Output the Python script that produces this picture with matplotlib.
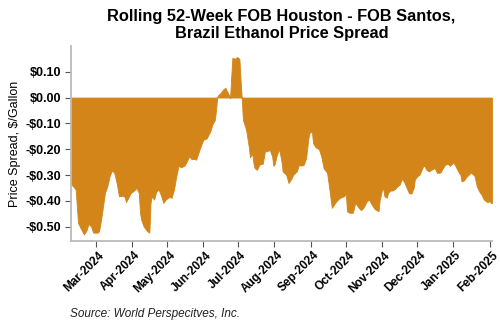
import numpy as np
import pandas as pd
import matplotlib
matplotlib.use("Agg")
import matplotlib.pyplot as plt
import matplotlib.dates as mdates
import matplotlib.transforms as mtransforms
from matplotlib.ticker import FuncFormatter

plt.rcParams['font.family'] = ['Liberation Sans', 'DejaVu Sans']

# Rolling 52-week spread, $/gallon
dates = [
    "2024-02-09", "2024-02-12", "2024-02-13", "2024-02-15", "2024-02-17", "2024-02-20",
    "2024-02-22", "2024-02-24", "2024-02-26", "2024-02-28", "2024-03-03", "2024-03-04",
    "2024-03-06", "2024-03-09", "2024-03-11", "2024-03-13", "2024-03-15", "2024-03-17",
    "2024-03-19", "2024-03-21", "2024-03-24", "2024-03-26", "2024-03-27", "2024-03-29",
    "2024-03-31", "2024-04-03", "2024-04-05", "2024-04-07", "2024-04-08", "2024-04-09",
    "2024-04-11", "2024-04-14", "2024-04-16", "2024-04-17", "2024-04-18", "2024-04-20",
    "2024-04-22", "2024-04-24", "2024-04-26", "2024-04-28", "2024-04-30", "2024-05-03",
    "2024-05-05", "2024-05-07", "2024-05-09", "2024-05-11", "2024-05-13", "2024-05-16",
    "2024-05-18", "2024-05-20", "2024-05-22", "2024-05-25", "2024-05-26", "2024-05-29",
    "2024-06-01", "2024-06-04", "2024-06-07", "2024-06-09", "2024-06-11", "2024-06-12",
    "2024-06-13", "2024-06-14", "2024-06-16", "2024-06-18", "2024-06-20", "2024-06-21",
    "2024-06-23", "2024-06-24", "2024-06-25", "2024-06-26", "2024-06-28", "2024-06-30",
    "2024-07-02", "2024-07-03", "2024-07-04", "2024-07-05", "2024-07-07", "2024-07-08",
    "2024-07-10", "2024-07-11", "2024-07-13", "2024-07-14", "2024-07-15", "2024-07-17",
    "2024-07-19", "2024-07-22", "2024-07-24", "2024-07-25", "2024-07-28", "2024-07-30",
    "2024-07-31", "2024-08-01", "2024-08-03", "2024-08-05", "2024-08-07", "2024-08-08",
    "2024-08-11", "2024-08-13", "2024-08-15", "2024-08-17", "2024-08-20", "2024-08-22",
    "2024-08-24", "2024-08-26", "2024-08-28", "2024-08-30", "2024-08-31", "2024-09-02",
    "2024-09-03", "2024-09-05", "2024-09-08", "2024-09-10", "2024-09-12", "2024-09-15",
    "2024-09-17", "2024-09-19", "2024-09-21", "2024-09-23", "2024-09-26", "2024-09-28",
    "2024-09-30", "2024-10-01", "2024-10-02", "2024-10-04", "2024-10-07", "2024-10-09",
    "2024-10-10", "2024-10-12", "2024-10-14", "2024-10-16", "2024-10-19", "2024-10-21",
    "2024-10-23", "2024-10-26", "2024-10-29", "2024-10-30", "2024-11-01", "2024-11-02",
    "2024-11-03", "2024-11-05", "2024-11-06", "2024-11-08", "2024-11-10", "2024-11-12",
    "2024-11-14", "2024-11-16", "2024-11-18", "2024-11-20", "2024-11-22", "2024-11-24",
    "2024-11-26", "2024-11-28", "2024-11-29", "2024-12-01", "2024-12-03", "2024-12-06",
    "2024-12-07", "2024-12-09", "2024-12-11", "2024-12-13", "2024-12-16", "2024-12-18",
    "2024-12-21", "2024-12-23", "2024-12-25", "2024-12-27", "2024-12-29", "2024-12-31",
    "2025-01-01", "2025-01-03", "2025-01-05", "2025-01-07", "2025-01-08", "2025-01-10",
    "2025-01-12", "2025-01-14", "2025-01-16", "2025-01-17", "2025-01-19", "2025-01-21",
    "2025-01-23", "2025-01-25", "2025-01-27", "2025-01-30", "2025-02-01", "2025-02-02",
    "2025-02-03",
]
spread = [
    -0.335, -0.350, -0.357, -0.485, -0.504, -0.530,
    -0.517, -0.490, -0.498, -0.523, -0.523, -0.517,
    -0.465, -0.370, -0.344, -0.305, -0.282, -0.292,
    -0.330, -0.382, -0.380, -0.385, -0.405, -0.388,
    -0.370, -0.360, -0.350, -0.370, -0.446, -0.472,
    -0.498, -0.517, -0.523, -0.408, -0.382, -0.395,
    -0.363, -0.357, -0.380, -0.408, -0.395, -0.385,
    -0.388, -0.357, -0.305, -0.264, -0.270, -0.264,
    -0.248, -0.228, -0.238, -0.238, -0.241, -0.200,
    -0.164, -0.158, -0.132, -0.103, -0.087, -0.049,
    0.000, 0.010, 0.018, 0.031, 0.038, 0.028,
    0.010, -0.003, 0.080, 0.154, 0.150, 0.157,
    0.150, 0.067, -0.003, -0.087, -0.113, -0.132,
    -0.190, -0.231, -0.218, -0.254, -0.273, -0.280,
    -0.260, -0.256, -0.203, -0.209, -0.203, -0.228,
    -0.264, -0.260, -0.222, -0.200, -0.248, -0.286,
    -0.299, -0.331, -0.318, -0.299, -0.286, -0.260,
    -0.264, -0.260, -0.235, -0.158, -0.136, -0.132,
    -0.177, -0.192, -0.200, -0.228, -0.273, -0.292,
    -0.357, -0.427, -0.414, -0.401, -0.388, -0.385,
    -0.380, -0.370, -0.440, -0.446, -0.446, -0.408,
    -0.414, -0.427, -0.436, -0.427, -0.401, -0.395,
    -0.414, -0.433, -0.440, -0.395, -0.357, -0.354,
    -0.382, -0.388, -0.370, -0.360, -0.360, -0.354,
    -0.344, -0.337, -0.315, -0.328, -0.350, -0.370,
    -0.372, -0.350, -0.318, -0.305, -0.299, -0.267,
    -0.264, -0.280, -0.286, -0.280, -0.273, -0.292,
    -0.290, -0.273, -0.260, -0.256, -0.264, -0.256,
    -0.251, -0.267, -0.286, -0.299, -0.325, -0.321,
    -0.308, -0.299, -0.290, -0.295, -0.303, -0.344,
    -0.363, -0.376, -0.395, -0.405, -0.401, -0.408,
    -0.408,
]
month_ticks = pd.date_range("2024-03-01", "2025-02-01", freq="MS")

x = pd.to_datetime(dates)
y = np.array(spread)

fig = plt.figure(figsize=(5, 3.3), dpi=100)
ax = fig.add_axes([0.142, 0.27, 0.842, 0.591])

ax.fill_between(x, 0, y, color='#D38519', linewidth=0.6, edgecolor='#D38519')

ax.set_xlim(x.min(), x.max())
ax.set_ylim(-0.555, 0.20)
ax.set_yticks(np.arange(-0.5, 0.11, 0.1))
ax.yaxis.set_major_formatter(FuncFormatter(
    lambda v, p: ('-' if v < -1e-9 else '') + '${:.2f}'.format(abs(v))))
ax.set_xticks(month_ticks)
ax.xaxis.set_major_formatter(mdates.DateFormatter('%b-%Y'))

ax.tick_params(axis='x', labelsize=8.5, length=4, color='#555555', pad=2)
ax.tick_params(axis='y', labelsize=9, length=4, color='#555555', pad=3)

shift = mtransforms.ScaledTranslation(2 / 100, 0, fig.dpi_scale_trans)
for lab in ax.get_xticklabels():
    lab.set_rotation(45)
    lab.set_ha('right')
    lab.set_rotation_mode('anchor')
    lab.set_fontweight('bold')
    lab.set_transform(lab.get_transform() + shift)
for lab in ax.get_yticklabels():
    lab.set_fontweight('bold')

for s in ['top', 'right']:
    ax.spines[s].set_visible(False)
for s in ['left', 'bottom']:
    ax.spines[s].set_color('#BBBBBB')
    ax.spines[s].set_linewidth(1.3)

ax.set_ylabel('Price Spread, $/Gallon', fontsize=9, labelpad=3)
ax.set_title('Rolling 52-Week FOB Houston - FOB Santos,\nBrazil Ethanol Price Spread',
             fontsize=11.8, fontweight='bold', pad=6, linespacing=1.15)
fig.text(0.14, 0.04, 'Source: World Perspecitves, Inc.', fontsize=8.5, style='italic',
         color='#222222')

fig.savefig('out.png', dpi=100)
